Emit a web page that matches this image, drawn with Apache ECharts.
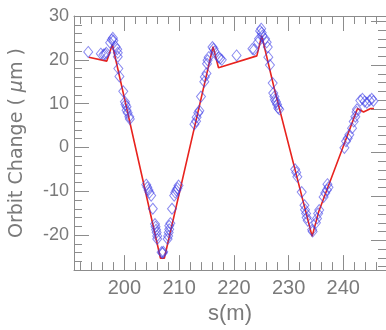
<!DOCTYPE html>
<html>
<head>
<meta charset="utf-8">
<script src="https://cdn.jsdelivr.net/npm/echarts@6/dist/echarts.min.js"></script>
<style>
  html, body { margin: 0; padding: 0; background: #fff; }
  #orbitChart { width: 386px; height: 330px; }
</style>
</head>
<body>
<div id="orbitChart"></div>
<script>
// 拟合曲线（红线）
var fitS = [193.5, 196.8, 197.8, 206.6, 207.3, 216.2, 217.2, 224.2, 225.1, 227.4, 234.3, 235.5, 242.6, 243.7, 245.0, 245.6];
var fitOrbit = [20.6, 19.7, 23.5, -25.3, -25.3, 23.0, 18.2, 20.9, 25.5, 13.4, -20.3, -14.7, 8.9, 8.1, 8.9, 8.9];

// 测量点（蓝色菱形）
var measS = [193.4, 195.7, 196.2, 196.5, 196.7, 197.4, 197.7, 197.9, 198.0, 198.4, 198.7, 198.8, 198.8, 198.9, 199.1,
  199.8, 200.1, 200.2, 200.4, 200.4, 200.6, 200.9, 201.0,
  204.0, 204.2, 204.4, 204.6, 204.9, 205.2, 205.6, 205.7, 205.8, 205.9, 206.0, 206.0,
  206.8, 207.0, 207.1,
  207.9, 208.0, 208.1, 208.2, 208.2, 208.4, 208.7, 209.1, 209.3, 209.5, 209.7, 209.9,
  212.8, 213.1, 213.2, 213.5, 213.7, 214.0, 214.6, 214.7, 215.0, 215.1, 215.2, 215.4,
  216.1, 216.3, 216.5, 217.2, 217.5, 217.8, 220.5, 223.4, 223.7, 224.4, 224.6,
  224.8, 225.0, 225.1, 225.2, 225.7, 226.0, 226.2, 226.3, 226.6,
  227.1, 227.2, 227.4, 227.5, 227.7, 227.9, 228.1, 228.3,
  231.2, 231.4, 231.6, 232.4, 232.9, 233.0, 233.2, 233.3, 233.5, 234.3, 234.4,
  235.0, 235.2, 235.4, 235.6, 236.4, 236.7, 237.0, 237.3, 237.1,
  240.2, 240.5, 240.8, 241.1, 241.6, 241.9, 242.2, 242.4, 242.5,
  243.1, 243.5, 243.9, 244.3, 244.8, 245.2, 245.5];
var measOrbit = [21.8, 21.4, 21.2, 21.3, 21.6, 23.9, 24.6, 25.0, 24.4, 23.0, 22.4, 21.6, 20.7, 18.0, 16.2,
  12.8, 10.4, 9.8, 9.3, 8.5, 7.9, 7.0, 6.5,
  -8.5, -9.1, -9.7, -10.3, -11.0, -14.0, -17.5, -18.1, -18.8, -19.4, -20.2, -20.9,
  -23.9, -24.1, -23.8,
  -20.9, -20.2, -19.4, -18.7, -17.9, -17.3, -14.0, -11.0, -10.3, -9.8, -9.3, -8.7,
  5.3, 6.0, 6.9, 7.9, 8.4, 11.6, 15.0, 16.1, 16.9, 19.1, 19.9, 20.6,
  22.9, 22.5, 21.9, 20.6, 20.3, 20.0, 21.0, 22.5, 22.3, 24.0, 24.8,
  26.6, 27.1, 26.2, 25.5, 24.8, 24.0, 22.9, 20.6, 18.8,
  14.7, 12.4, 11.6, 10.9, 10.4, 9.8, 9.0, 8.7,
  -5.0, -5.7, -6.7, -10.2, -13.2, -14.2, -15.1, -16.0, -16.7, -18.8, -19.2,
  -17.2, -16.2, -15.1, -14.3, -11.3, -10.4, -9.7, -9.1, -8.4,
  -0.1, 1.4, 2.1, 2.9, 4.4, 5.9, 7.0, 8.1, 8.7,
  10.7, 11.1, 10.5, 10.2, 10.7, 11.1, 10.6];

// 坐标轴刻度
var xMajor = [200, 210, 220, 230, 240];
var xMinor = [192, 194, 196, 198, 202, 204, 206, 208, 212, 214, 216, 218, 222, 224, 226, 228, 232, 234, 236, 238, 242, 244, 246];
var yMajor = [-20, -10, 0, 10, 20, 30];
var yMinor = [-26, -24, -22, -18, -16, -14, -12, -8, -6, -4, -2, 2, 4, 6, 8, 12, 14, 16, 18, 22, 24, 26, 28];

var axisColor = '#8c8c8c';
var fontColor = '#7a7a7a';

function zip(a, b) {
  return a.map(function (v, i) { return [v, b[i]]; });
}

function xAx(pos, ticks, len, showLine, showLabel) {
  return {
    type: 'value', position: pos, min: 190.8, max: 247.8,
    name: showLabel ? 's(m)' : '',
    nameLocation: 'middle', nameGap: 31,
    nameTextStyle: { color: fontColor, fontSize: 22, fontFamily: 'Liberation Sans' },
    splitLine: { show: false },
    axisLine: { show: showLine, onZero: false, lineStyle: { color: axisColor, width: 1 } },
    axisTick: { show: true, inside: true, length: len, customValues: ticks, lineStyle: { color: axisColor } },
    axisLabel: { show: showLabel, customValues: xMajor, margin: 8, color: fontColor, fontSize: 20, fontFamily: 'Liberation Sans' }
  };
}

function yAx(pos, ticks, len, showLine, showLabel, min, max) {
  return {
    type: 'value', position: pos, min: min, max: max,
    name: showLabel ? 'Orbit Change ( {mu|μ}m )' : '',
    nameLocation: 'middle', nameGap: 47, nameRotate: 90,
    nameTextStyle: {
      color: fontColor, fontSize: 19, fontFamily: 'DejaVu Sans',
      rich: { mu: { color: fontColor, fontSize: 19, fontFamily: 'DejaVu Sans', fontStyle: 'italic' } }
    },
    splitLine: { show: false },
    axisLine: { show: showLine, onZero: false, lineStyle: { color: axisColor, width: 1 } },
    axisTick: { show: true, inside: true, length: len, customValues: ticks, lineStyle: { color: axisColor } },
    axisLabel: { show: showLabel, customValues: yMajor, margin: 5, color: fontColor, fontSize: 18, fontFamily: 'Liberation Sans' }
  };
}

var chart = echarts.init(document.getElementById('orbitChart'), null, { renderer: 'canvas' });
var option = {
  backgroundColor: '#fff',
  animation: false,
  grid: { left: 74, right: 0, top: 16, bottom: 56 },
  xAxis: [
    xAx('bottom', xMajor, 15, true, true),
    xAx('bottom', xMinor, 8, false, false),
    xAx('top', xMajor, 15, true, false),
    xAx('top', xMinor, 8, false, false)
  ],
  yAxis: [
    yAx('left', yMajor, 15, true, true, -28, 30),
    yAx('left', yMinor, 8, false, false, -28, 30),
    // 右侧刻度与左侧略有错位，轴线在画面外
    yAx('right', yMajor, 15, false, false, -26.8, 31.2),
    yAx('right', yMinor, 8, false, false, -26.8, 31.2)
  ],
  series: [
    {
      type: 'line',
      xAxisIndex: 0, yAxisIndex: 0,
      data: zip(fitS, fitOrbit),
      showSymbol: false,
      lineStyle: { color: '#e8231e', width: 1.6 },
      z: 2
    },
    {
      type: 'scatter',
      xAxisIndex: 0, yAxisIndex: 0,
      data: zip(measS, measOrbit),
      symbol: 'diamond',
      symbolSize: [9, 11],
      itemStyle: { color: 'rgba(0,0,0,0)', borderColor: 'rgba(60,60,230,0.75)', borderWidth: 1 },
      z: 3
    }
  ]
};
chart.setOption(option);
</script>
</body>
</html>
